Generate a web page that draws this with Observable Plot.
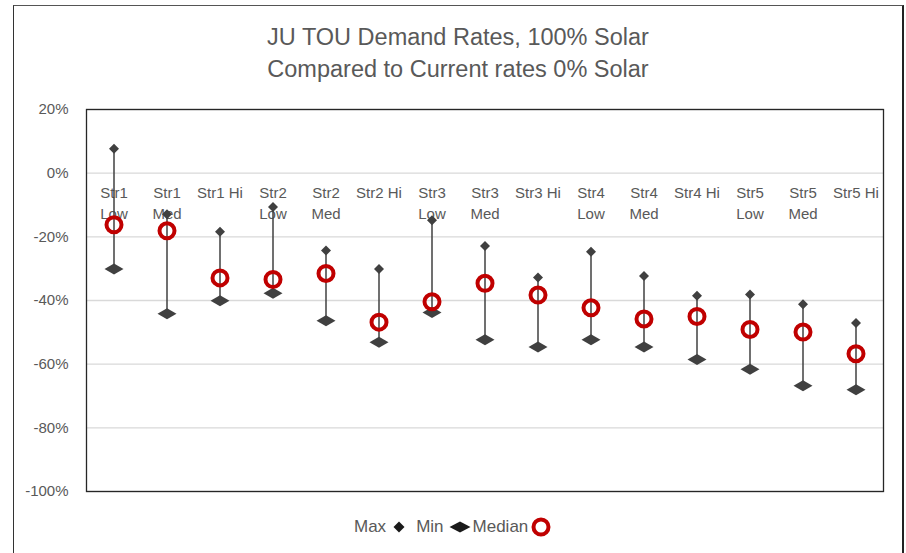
<!DOCTYPE html>
<html>
<head>
<meta charset="utf-8">
<script src="https://cdn.jsdelivr.net/npm/d3@7"></script>
<script src="https://cdn.jsdelivr.net/npm/@observablehq/plot@0.6"></script>
<style>
  body { margin: 0; background: #fff; font-family: "Liberation Sans", Arial, sans-serif; }
  #wrap { position: relative; width: 906px; height: 553px; overflow: hidden; background: #fff; }
  #chart { position: absolute; left: 0; top: 0; }
  #border { position: absolute; left: 13px; top: 5px; width: 888px; height: 600px;
            border-top: 1.5px solid #555; border-left: 1.5px solid #333; border-right: 2px solid #222; pointer-events: none; }
  #title { position: absolute; left: 13px; width: 890px; top: 21px; text-align: center;
           font-size: 23.5px; line-height: 32px; color: #595959; }
  #legend { position: absolute; left: 354px; top: 516px; height: 22px; display: flex; align-items: center;
            font-size: 17px; color: #595959; }
  #legend svg { display: block; }
</style>
</head>
<body>
<div id="wrap">
  <div id="chart"></div>
  <div id="title">JU TOU Demand Rates, 100% Solar<br>Compared to Current rates 0% Solar</div>
  <div id="legend">
    <span>Max</span>
    <svg width="12" height="12" style="margin-left:7px"><path d="M6,0.5L11.5,6L6,11.5L0.5,6Z" fill="#1a1a1a"/></svg>
    <span style="margin-left:11px">Min</span>
    <svg width="22" height="14" style="margin-left:5px"><path d="M11,1.5L21.5,7L11,12.5L0.5,7Z" fill="#1a1a1a"/></svg>
    <span style="margin-left:2px">Median</span>
    <svg width="20" height="20" style="margin-left:3px"><circle cx="10" cy="10" r="7.5" fill="none" stroke="#c00000" stroke-width="4"/></svg>
  </div>
  <div id="border"></div>
</div>
<script>
// ---- data ----
const categories = ["Str1 Low","Str1 Med","Str1 Hi","Str2 Low","Str2 Med","Str2 Hi","Str3 Low","Str3 Med","Str3 Hi","Str4 Low","Str4 Med","Str4 Hi","Str5 Low","Str5 Med","Str5 Hi"];
const tickLabels = ["Str1\nLow","Str1\nMed","Str1 Hi","Str2\nLow","Str2\nMed","Str2 Hi","Str3\nLow","Str3\nMed","Str3 Hi","Str4\nLow","Str4\nMed","Str4 Hi","Str5\nLow","Str5\nMed","Str5 Hi"];
const maxVals    = [7.7, -12.9, -18.4, -10.6, -24.3, -30.1, -14.8, -22.9, -32.8, -24.7, -32.3, -38.5, -38.1, -41.2, -47.1];
const minVals    = [-30.1, -44.2, -40.1, -37.7, -46.4, -53.1, -43.8, -52.3, -54.6, -52.3, -54.6, -58.5, -61.6, -66.8, -68.0];
const medianVals = [-16.2, -18.1, -32.9, -33.4, -31.5, -46.8, -40.4, -34.6, -38.3, -42.3, -45.8, -45.0, -49.1, -49.9, -56.7];
const yTicks = [20, 0, -20, -40, -60, -80, -100];
const axisCross = 0; // category labels hang below the 0% line

const data = categories.map((c, i) => ({cat: c, label: tickLabels[i], max: maxVals[i], min: minVals[i], median: medianVals[i], cross: axisCross}));

// custom marker shapes
const smallDiamond = { draw(ctx) { ctx.moveTo(0,-5); ctx.lineTo(5,0); ctx.lineTo(0,5); ctx.lineTo(-5,0); ctx.closePath(); } };
const wideDiamond  = { draw(ctx) { ctx.moveTo(0,-5.5); ctx.lineTo(9.5,0); ctx.lineTo(0,5.5); ctx.lineTo(-9.5,0); ctx.closePath(); } };

const chart = Plot.plot({
  width: 906,
  height: 553,
  marginTop: 109,
  marginBottom: 62,
  marginLeft: 86,
  marginRight: 23,
  style: { fontFamily: "Liberation Sans, Arial, sans-serif", fontSize: "15px", color: "#595959", background: "transparent", overflow: "visible" },
  x: { type: "band", domain: categories, padding: 0, axis: null },
  y: { domain: [-100, 20], ticks: yTicks, tickFormat: d => d + "%", tickSize: 0, tickPadding: 18, label: null },
  marks: [
    Plot.gridY(yTicks, { stroke: "#d9d9d9", strokeOpacity: 1, strokeWidth: 1.3 }),
    Plot.frame({ stroke: "#262626", strokeWidth: 1.3 }),
    Plot.text(data, { x: "cat", y: "cross", text: "label", lineAnchor: "top", dy: 10, lineHeight: 1.4, fill: "#595959", fontSize: 15 }),
    Plot.ruleX(data, { x: "cat", y1: "max", y2: "min", stroke: "#404040", strokeWidth: 1.5 }),
    Plot.dot(data, { x: "cat", y: "max", symbol: smallDiamond, fill: "#404040", stroke: "none", r: 5 }),
    Plot.dot(data, { x: "cat", y: "min", symbol: wideDiamond, fill: "#404040", stroke: "none", r: 5 }),
    Plot.dot(data, { x: "cat", y: "median", r: 7.5, fill: "none", stroke: "#c00000", strokeWidth: 4 })
  ]
});
document.getElementById("chart").appendChild(chart);
</script>
</body>
</html>
